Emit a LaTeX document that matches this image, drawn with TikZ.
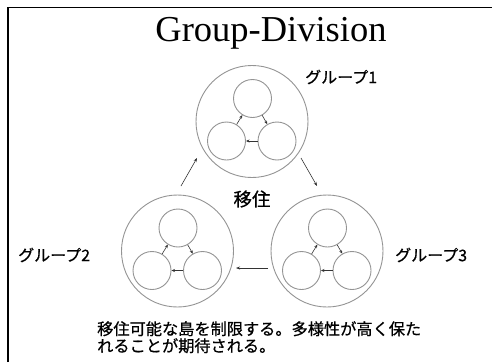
\documentclass[tikz,border=0pt]{standalone}
\usepackage{fontspec}
\setmainfont{Liberation Serif}
\newfontfamily\jp[FakeBold=0.6]{Noto Sans CJK JP}
\usetikzlibrary{arrows.meta}
\begin{document}
\begin{tikzpicture}[x=1pt,y=-1pt,
  group/.style={circle,draw=black!42,line width=0.9pt,minimum size=112pt,inner sep=0pt},
  island/.style={circle,draw=black!42,line width=0.9pt,minimum size=38pt,inner sep=0pt},
  mig/.style={draw=black!80,line width=0.6pt,-{Stealth[length=4pt,width=3pt]}},
  inmig/.style={draw=black!80,line width=0.6pt,-{Stealth[length=3.5pt,width=3pt]}},
  frameline/.style={draw=black,line width=1.5pt},
  jlabel/.style={font=\jp\fontsize{16}{18}\selectfont,inner sep=0pt}]
\useasboundingbox (0,0) rectangle (492,362);
\fill[white] (0,0) rectangle (492,362);
\draw[frameline] (8,362) -- (8,7.5) -- (492,7.5);
\node[font=\fontsize{36.5}{40}\selectfont,inner sep=0pt,anchor=base] (title) at (271,41) {Group-Division};
% groups
\foreach \g/\cx/\cy in {1/252/121.5,2/177.5/251,3/327/251}{
  \node[group] (G\g) at (\cx,\cy) {};
  \node[island] (T\g) at (\cx+0.5,\cy-23) {};
  \node[island] (L\g) at (\cx-25.5,\cy+19.5) {};
  \node[island] (R\g) at (\cx+25,\cy+19.5) {};
  \draw[inmig] (T\g) -- (R\g);
  \draw[inmig] (R\g) -- (L\g);
  \draw[inmig] (L\g) -- (T\g);
}
\node[jlabel,anchor=west] (lab1) at (305,77) {グループ1};
\node[jlabel,anchor=west] (lab2) at (18,255) {グループ2};
\node[jlabel,anchor=west] (lab3) at (395,255) {グループ3};
\node[jlabel,font=\jp\fontsize{18.5}{20}\selectfont] (mig) at (252,199) {移住};
% migration arrows between groups
\coordinate (a1s) at (181,186); \coordinate (a1e) at (197,158);
\coordinate (a2s) at (301,158); \coordinate (a2e) at (317,186);
\coordinate (a3s) at (268,268); \coordinate (a3e) at (236,268);
\draw[mig] (a1s) -- (a1e);
\draw[mig] (a2s) -- (a2e);
\draw[mig] (a3s) -- (a3e);
\node[jlabel,anchor=north west,align=left,font=\jp\fontsize{16.2}{17}\selectfont] (desc) at (97,321) {移住可能な島を制限する。多様性が高く保た\\れることが期待される。};
\end{tikzpicture}
\end{document}
